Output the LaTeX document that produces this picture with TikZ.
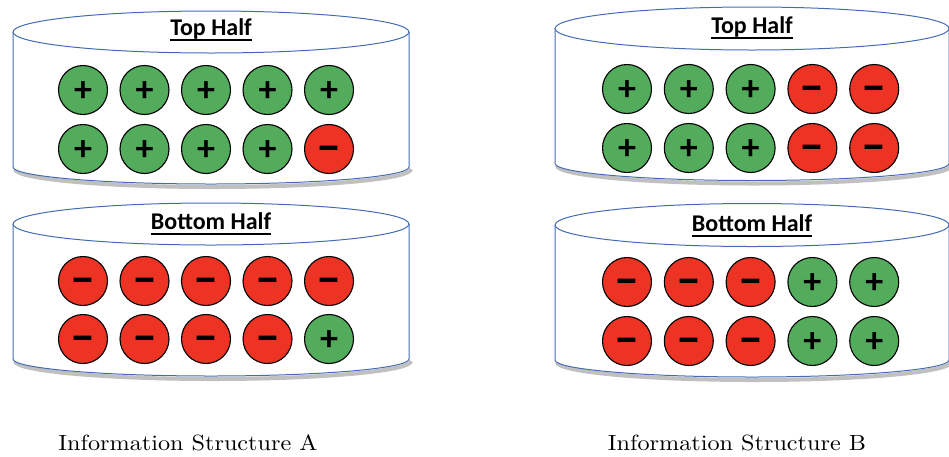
\documentclass[tikz,border=0pt]{standalone}
\usepackage{fontspec}
\usepackage{graphicx}
\newfontfamily\calibri{Carlito}
\definecolor{grn}{RGB}{82,172,92}
\definecolor{rd}{RGB}{236,51,36}
\definecolor{rim}{RGB}{68,108,180}
\newcommand\symp{+}
\newcommand\symm{–}
\tikzset{
  ball/.style={circle, draw=black, line width=1.1pt, minimum size=49pt, inner sep=0pt, text depth=0pt},
  ballp/.style={ball, fill=grn, text height=23.6pt, font=\calibri\bfseries\fontsize{36}{36}\selectfont},
  ballm/.style={ball, fill=rd, text height=27.6pt, font=\calibri\bfseries\fontsize{50}{50}\selectfont},
  title/.style={font=\calibri\bfseries\fontsize{24}{26}\selectfont, inner sep=0pt, anchor=base},
  caption/.style={font=\fontsize{10}{12}\selectfont, inner sep=0pt, anchor=base},
  rimline/.style={draw=rim, line width=1pt}
}
% #1 cx, #2 ellipse centre y, #3 rx, #4 ry
\newcommand\drawtub[4]{%
  \draw[black!55, line width=4pt, opacity=.45]
    (#1-#3+2,#2+137) arc[start angle=180, end angle=360, x radius=#3 pt, y radius=18pt];
  \fill[white] (#1-#3,#2) -- (#1-#3,#2+135)
    arc[start angle=180, end angle=360, x radius=#3 pt, y radius=17pt] -- (#1+#3,#2) -- cycle;
  \draw[rimline] (#1-#3,#2) -- (#1-#3,#2+135)
    arc[start angle=180, end angle=360, x radius=#3 pt, y radius=17pt] -- (#1+#3,#2);
  \draw[rimline, fill=white] (#1,#2) ellipse[x radius=#3 pt, y radius=#4 pt];
}
\begin{document}
\begin{tikzpicture}[x=1pt,y=-1pt]
\useasboundingbox (0,0) rectangle (949,456);

% tubs
\drawtub{211}{32}{198}{21}
\drawtub{211}{224}{198}{21}
\drawtub{752}{28.5}{197}{21.5}
\drawtub{752}{225}{197}{21.5}

% titles
\node[title] (tA1) at (211,35.5) {Top Half};
\node[title] (tA2) at (211,229) {Bottom Half};
\node[title] (tB1) at (752,33) {Top Half};
\node[title] (tB2) at (752,231) {Bottom Half};
\foreach \t in {tA1,tA2,tB1,tB2}
  \draw[line width=1.8pt] ([yshift=-4.8pt]\t.base west) -- ([yshift=-4.8pt]\t.base east);

% balls, structure A
\foreach \s [count=\i from 0] in {p,p,p,p,p}
  \node[ball\s] (A1a\i) at (83+61.5*\i,90) {\csname sym\s\endcsname};
\foreach \s [count=\i from 0] in {p,p,p,p,m}
  \node[ball\s] (A1b\i) at (83+61.5*\i,149) {\csname sym\s\endcsname};
\foreach \s [count=\i from 0] in {m,m,m,m,m}
  \node[ball\s] (A2a\i) at (83+61.5*\i,281) {\csname sym\s\endcsname};
\foreach \s [count=\i from 0] in {m,m,m,m,p}
  \node[ball\s] (A2b\i) at (83+61.5*\i,339) {\csname sym\s\endcsname};

% balls, structure B
\foreach \s [count=\i from 0] in {p,p,p,m,m}
  \node[ball\s] (B1a\i) at (627+61.8*\i,89) {\csname sym\s\endcsname};
\foreach \s [count=\i from 0] in {p,p,p,m,m}
  \node[ball\s] (B1b\i) at (627+61.8*\i,148) {\csname sym\s\endcsname};
\foreach \s [count=\i from 0] in {m,m,m,p,p}
  \node[ball\s] (B2a\i) at (627+61.8*\i,282) {\csname sym\s\endcsname};
\foreach \s [count=\i from 0] in {m,m,m,p,p}
  \node[ball\s] (B2b\i) at (627+61.8*\i,341) {\csname sym\s\endcsname};

% captions
\node[caption] (capA) at (188,450.5) {\scalebox{2.42}[2.2]{Information Structure A}};
\node[caption] (capB) at (737,450.5) {\scalebox{2.42}[2.2]{Information Structure B}};
\end{tikzpicture}
\end{document}
